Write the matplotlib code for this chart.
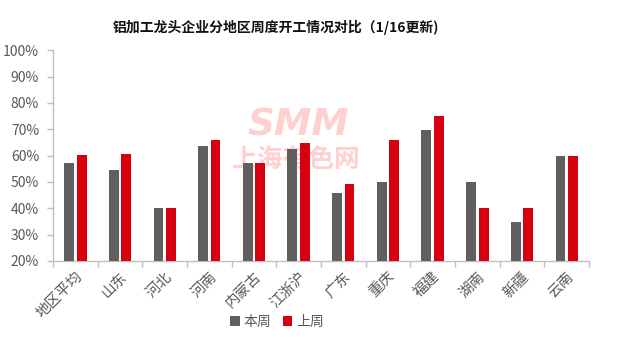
import matplotlib
matplotlib.use("Agg")
import matplotlib.pyplot as plt
import numpy as np
from matplotlib.ticker import FuncFormatter, MultipleLocator

plt.rcParams['font.family'] = ['Noto Sans CJK SC', 'DejaVu Sans']

title = "铝加工龙头企业分地区周度开工情况对比（1/16更新)"
regions = ["地区平均", "山东", "河北", "河南", "内蒙古", "江浙沪", "广东", "重庆", "福建", "湖南", "新疆", "云南"]
this_week = [57.2, 54.6, 40.0, 63.7, 57.2, 62.5, 45.8, 50.0, 69.7, 50.0, 34.8, 60.0]
last_week = [60.3, 60.6, 40.0, 65.9, 57.2, 64.8, 49.2, 65.9, 75.1, 40.0, 40.0, 60.0]
series_names = ["本周", "上周"]

gray = "#5f5f5f"
red = "#d7000f"
axis_col = "#bfbfbf"
text_col = "#595959"

fig = plt.figure(figsize=(6.26, 3.41), dpi=100)
ax = fig.add_axes([53/626, 1 - 261/341, (589 - 53)/626, (261 - 50.3)/341])

x = np.arange(len(regions))
w = 0.22
gap = 0.03
b1 = ax.bar(x - w/2 - gap, this_week, width=w, color=gray, zorder=3, label=series_names[0])
b2 = ax.bar(x + w/2 + gap, last_week, width=w, color=red, zorder=3, label=series_names[1])

ax.set_xlim(-0.5, len(regions) - 0.5)
ax.set_ylim(20, 100)
ax.yaxis.set_major_locator(MultipleLocator(10))
ax.yaxis.set_major_formatter(FuncFormatter(lambda v, p: f"{v:.0f}%"))

# category labels at centers, tick marks on the boundaries
ax.set_xticks(x)
ax.set_xticklabels(regions, rotation=45, ha='right', va='top', rotation_mode='anchor',
                   fontsize=10.5, color=text_col)
ax.tick_params(axis='x', which='major', length=0, pad=6)
ax.set_xticks(np.arange(-0.5, len(regions), 1), minor=True)
ax.tick_params(axis='x', which='minor', length=4, color=axis_col, width=1)
ax.tick_params(axis='y', length=4, color=axis_col, width=1, labelsize=10, labelcolor=text_col, pad=6)

for s in ['top', 'right']:
    ax.spines[s].set_visible(False)
for s in ['left', 'bottom']:
    ax.spines[s].set_color(axis_col)
    ax.spines[s].set_linewidth(1)

# watermark behind the bars
wm = "#ffd0d0"
ax.text((298 - 53)/536, (261 - 125)/210.7, "SMM", transform=ax.transAxes, ha='center', va='center',
        fontsize=27, fontweight='heavy', fontstyle='italic', color=wm, zorder=1,
        family=['DejaVu Sans'])
ax.text((296 - 53)/536, (261 - 159)/210.7, "上海有色网", transform=ax.transAxes, ha='center', va='center',
        fontsize=18.5, fontweight='heavy', color=wm, zorder=1)

fig.text(276/626, 1 - 27/341, title, ha='center', va='center', fontsize=10, fontweight='bold', color='#111111')

leg = fig.legend(handles=[b1, b2], labels=series_names, loc='center', bbox_to_anchor=(277/626, 1 - 322/341),
                 ncol=2, frameon=False, fontsize=10, handlelength=0.7, handleheight=0.7,
                 handletextpad=0.3, columnspacing=0.8)
for t in leg.get_texts():
    t.set_color(text_col)

fig.savefig("out.png", dpi=100)
